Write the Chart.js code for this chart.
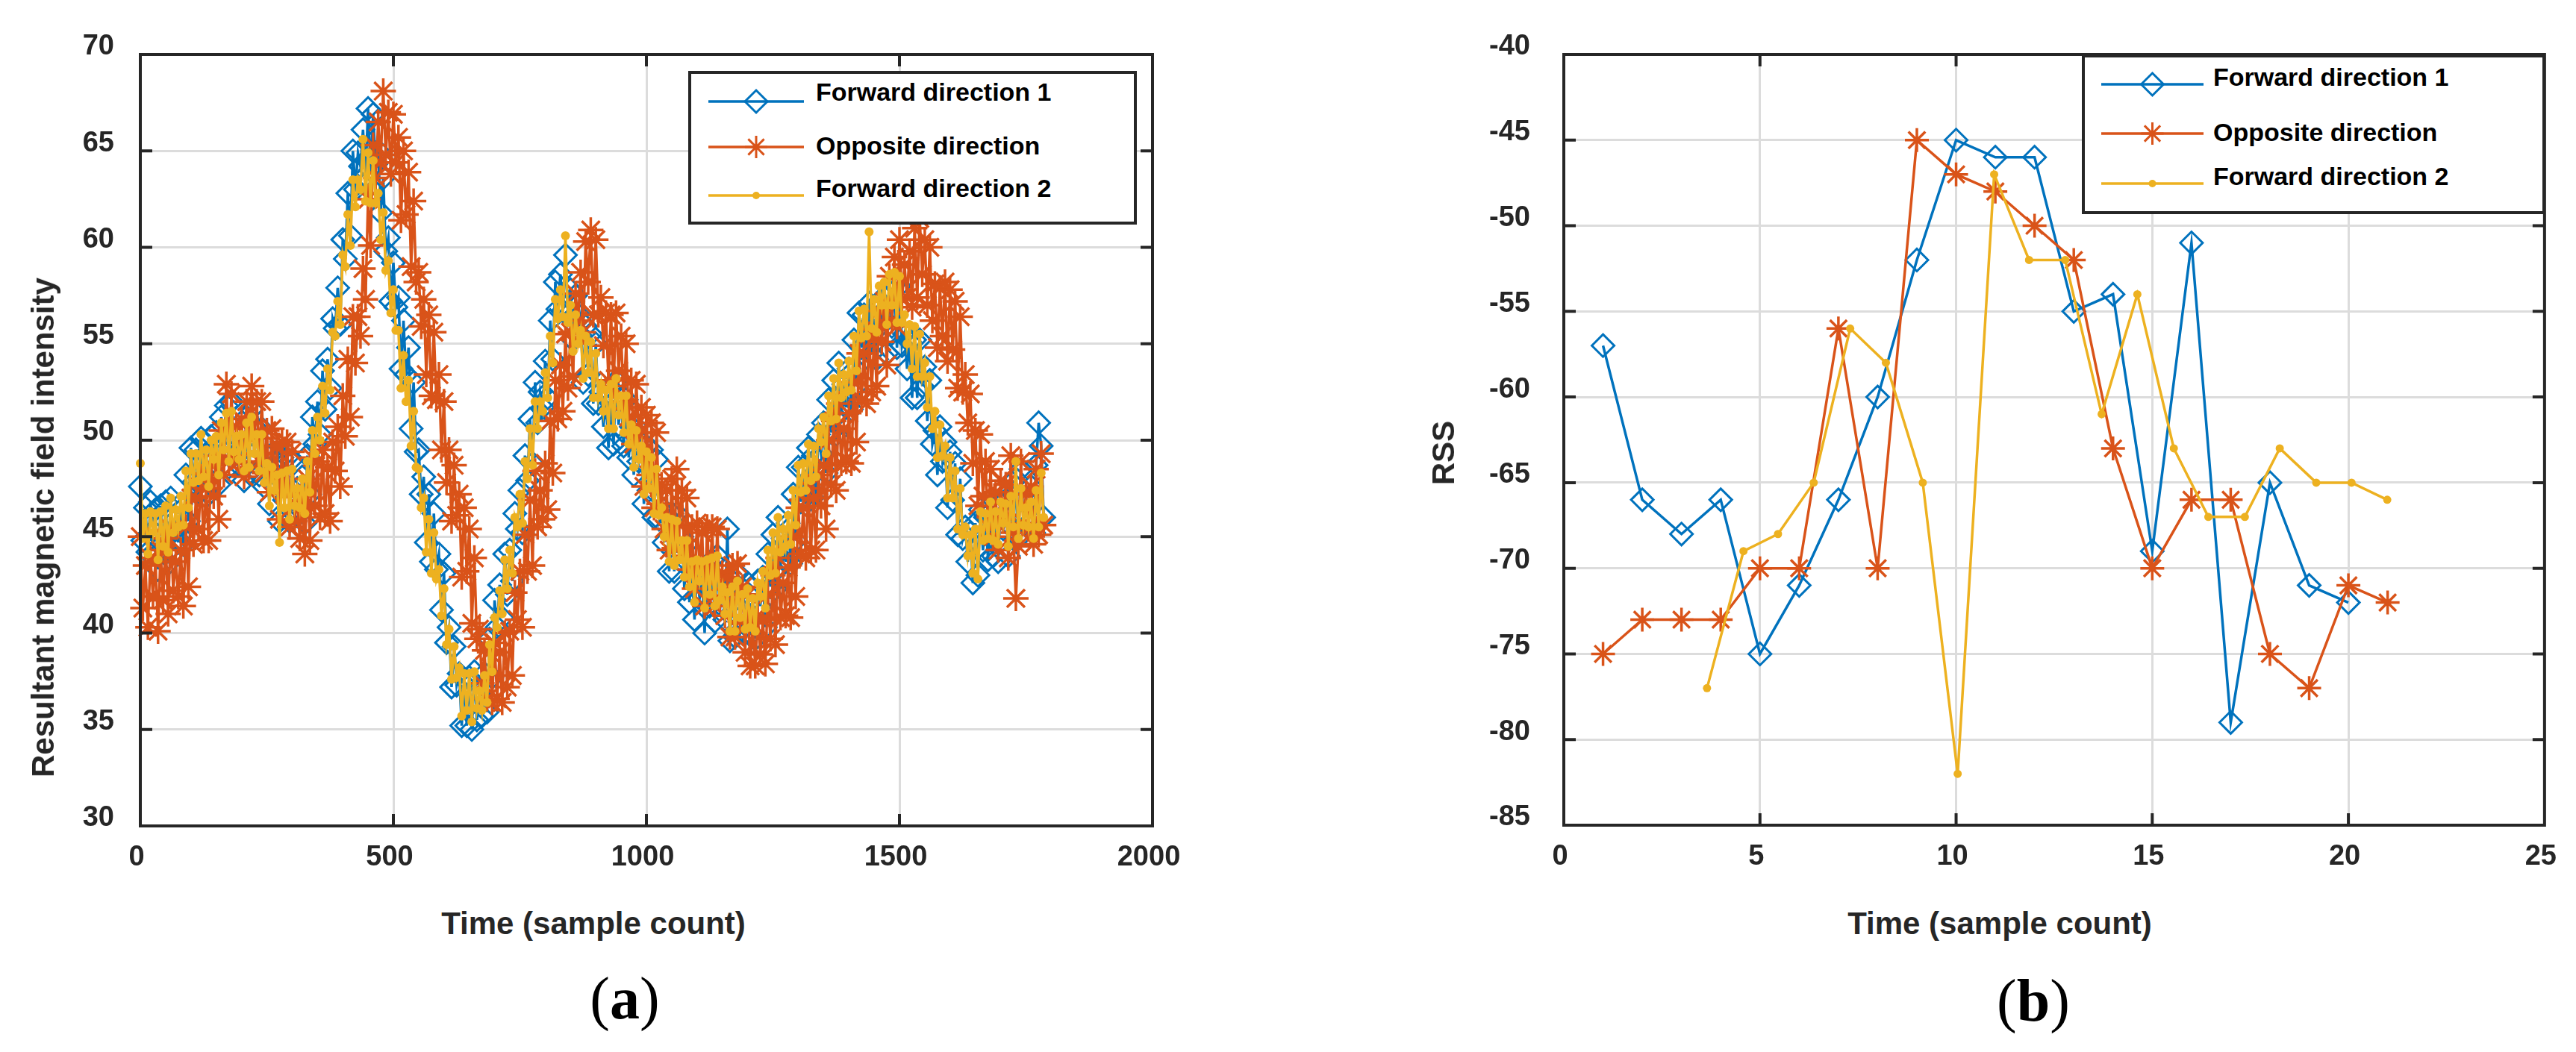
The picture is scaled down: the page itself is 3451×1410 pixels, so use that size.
<!DOCTYPE html>
<html>
<head>
<meta charset="utf-8">
<script src="https://cdn.jsdelivr.net/npm/chart.js@4.4.1/dist/chart.umd.min.js"></script>
<style>
  body { margin: 0; width: 3451px; height: 1410px; background: #fff; position: relative; overflow: hidden;
         font-family: "Liberation Sans", Arial, sans-serif; color: #262626; }
  .holder { position: absolute; top: 0; }
  .txt { position: absolute; white-space: nowrap; line-height: 1; font-weight: bold; transform: translate(-50%, -50%); }
  .ytitle { transform: translate(-50%, -50%) rotate(-90deg); }
  .panel { font-family: "Liberation Serif", "Times New Roman", serif; font-weight: normal; font-size: 80px; color: #000; }
  .legend { position: absolute; box-sizing: border-box; border: 4px solid #262626; background: #fff; }
  .legtxt { position: absolute; white-space: nowrap; line-height: 1; font-weight: bold; font-size: 34px; color: #000; transform: translateY(-50%); }
  svg.leg { position: absolute; left: 0; top: 0; overflow: visible; }
</style>
</head>
<body>
<div class="holder" style="left:0"><canvas id="chartA" width="1650" height="1200" style="width:1650px;height:1200px"></canvas></div>
<div class="holder" style="left:1750px"><canvas id="chartB" width="1700" height="1200" style="width:1700px;height:1200px"></canvas></div>

<div class="txt ytitle" style="left:58px;top:707px;font-size:42px">Resultant magnetic field intensity</div>
<div class="txt" style="left:795px;top:1238px;font-size:42px">Time (sample count)</div>
<div class="txt panel" style="left:837px;top:1338px">(<b>a</b>)</div>

<div class="txt ytitle" style="left:1934px;top:607px;font-size:42px">RSS</div>
<div class="txt" style="left:2679px;top:1238px;font-size:42px">Time (sample count)</div>
<div class="txt panel" style="left:2724px;top:1341px">(<b>b</b>)</div>

<script>
// series names and colours (MATLAB default order)
const seriesNames = ["Forward direction 1", "Opposite direction", "Forward direction 2"];
const seriesColors = ["#0072BD", "#D95319", "#EDB120"];

// (a) magnetic field, read every 5th sample off the picture
const samplesA = [
  0,5,10,15,20,25,30,35,40,45,50,55,60,65,70,75,80,85,90,95,
  100,105,110,115,120,125,130,135,140,145,150,155,160,165,170,175,180,185,190,195,
  200,205,210,215,220,225,230,235,240,245,250,255,260,265,270,275,280,285,290,295,
  300,305,310,315,320,325,330,335,340,345,350,355,360,365,370,375,380,385,390,395,
  400,405,410,415,420,425,430,435,440,445,450,455,460,465,470,475,480,485,490,495,
  500,505,510,515,520,525,530,535,540,545,550,555,560,565,570,575,580,585,590,595,
  600,605,610,615,620,625,630,635,640,645,650,655,660,665,670,675,680,685,690,695,
  700,705,710,715,720,725,730,735,740,745,750,755,760,765,770,775,780,785,790,795,
  800,805,810,815,820,825,830,835,840,845,850,855,860,865,870,875,880,885,890,895,
  900,905,910,915,920,925,930,935,940,945,950,955,960,965,970,975,980,985,990,995,
  1000,1005,1010,1015,1020,1025,1030,1035,1040,1045,1050,1055,1060,1065,1070,1075,1080,1085,1090,1095,
  1100,1105,1110,1115,1120,1125,1130,1135,1140,1145,1150,1155,1160,1165,1170,1175,1180,1185,1190,1195,
  1200,1205,1210,1215,1220,1225,1230,1235,1240,1245,1250,1255,1260,1265,1270,1275,1280,1285,1290,1295,
  1300,1305,1310,1315,1320,1325,1330,1335,1340,1345,1350,1355,1360,1365,1370,1375,1380,1385,1390,1395,
  1400,1405,1410,1415,1420,1425,1430,1435,1440,1445,1450,1455,1460,1465,1470,1475,1480,1485,1490,1495,
  1500,1505,1510,1515,1520,1525,1530,1535,1540,1545,1550,1555,1560,1565,1570,1575,1580,1585,1590,1595,
  1600,1605,1610,1615,1620,1625,1630,1635,1640,1645,1650,1655,1660,1665,1670,1675,1680,1685,1690,1695,
  1700,1705,1710,1715,1720,1725,1730,1735,1740,1745,1750,1755,1760,1765,1770,1775,1780,1785];

const forward1A = [
  47.6,44.8,46.5, 44.2,46.8,45.3, 46.4,43.3,46.6, 44.4,46.8,43.6, 47.0,44.5,45.9, 44.7,46.7,44.6,
  48.2,45.8,49.6, 47.8,49.5,47.3, 50.1,47.5,49.3, 47.2,50.2,48.9, 50.4,47.7,51.2, 49.4,51.8,48.6,
  52.0,49.2,50.2, 48.7,50.4,47.9, 51.2,48.3,51.6, 49.3,50.6,48.2, 50.6,47.6,49.2, 46.7,49.3,47.8,
  48.9,45.8,49.1, 46.9,49.1,45.8, 49.0,46.4,47.5, 46.2,48.1,45.7, 49.2,47.2,51.2, 49.8,52.0,50.3,
  53.6,51.6,54.2, 52.7,56.3,55.8, 57.9,56.0,60.4, 59.4,62.8,60.6, 65.0,63.0,64.9, 64.2,66.1,63.7,
  67.2,64.0,66.9, 64.3,65.0,61.8, 63.6,59.8,60.5, 57.2,59.2,56.9, 57.4,53.7,56.2, 53.4,54.8,50.6,
  53.0,49.4,49.5, 47.2,48.1,44.7, 47.2,43.7,46.2, 43.3,44.1,41.2, 43.1,39.5,40.3, 37.2,39.3,37.3,
  37.9,35.2,37.6, 35.2,37.7,35.0, 38.0,35.5,36.9, 35.7,37.9,35.9, 39.7,37.7,41.7, 40.3,42.5,40.8,
  44.1,42.0,44.3, 42.7,46.2,45.4, 47.4,45.2,49.2, 47.9,51.1,48.8, 53.0,50.9,52.5, 51.7,54.1,52.2,
  56.2,54.2,58.2, 56.8,58.6,56.7, 59.6,56.5,57.8, 55.2,57.5,55.6, 56.4,53.0,55.9, 53.4,55.5,51.9,
  55.0,51.9,52.5, 50.7,52.2,49.6, 52.7,49.8,53.1, 50.8,52.1,49.7, 52.1,49.1,50.7, 48.2,50.7,48.9,
  49.9,46.7,49.7, 47.4,49.5,46.0, 49.0,45.9,46.5, 44.7,46.1,43.2, 46.2,43.2,46.2, 43.8,45.0,42.3,
  44.6,41.6,43.2, 40.7,43.3,41.8, 42.9,40.0,43.4, 41.4,43.8,40.6, 44.0,41.2,42.2, 40.7,45.4,39.6,
  42.7,39.8,43.1, 40.8,42.3,40.0, 42.6,39.9,41.8, 39.7,42.7,41.4, 42.9,40.3,44.1, 42.4,45.1,42.3,
  46.0,43.5,44.9, 43.7,45.7,43.6, 47.2,44.8,48.6, 46.8,48.6,46.7, 49.6,47.1,49.2, 47.2,50.3,49.3,
  50.9,48.3,52.1, 50.4,53.1,50.3, 54.0,51.5,52.9, 51.7,53.7,51.6, 55.2,52.8,56.6, 54.8,56.5,54.3,
  57.1,54.5,56.3, 54.2,57.2,56.0, 57.4,54.5,57.9, 55.9,58.1,54.8, 58.0,54.9,55.5, 53.7,55.1,52.2,
  55.2,52.2,55.2, 52.8,53.8,51.0, 53.1,49.8,50.5, 48.2,50.7,48.9, 49.9,46.5,49.4, 46.9,48.8,45.1,
  48.0,44.9,45.5, 43.7,45.2,42.6, 45.7,43.0,46.4, 44.3,46.0,43.8, 46.6,44.0,45.8, 43.7,46.7,45.4,
  46.9,44.0,47.4, 45.4,48.0,44.9, 48.5,45.9,47.0, 45.7,47.6,45.2, 48.7,50.9,49.7, 46.0];

const oppositeA = [
  45.0,41.3,43.5, 40.3,43.9,41.9, 43.7,40.1,44.3, 41.7,44.9,41.0, 45.4,42.2,43.7, 41.9,44.3,41.4,
  45.5,42.4,47.0, 44.6,47.0,45.4, 48.0,44.8,47.5, 44.8,48.7,47.1, 49.2,45.9,50.5, 48.2,52.9,48.9,
  52.4,49.2,50.7, 48.9,51.1,48.1, 52.0,48.6,52.8, 50.1,52.0,48.9, 52.0,48.3,50.5, 47.3,50.6,48.2,
  49.7,45.9,49.9, 47.2,49.9,45.5, 49.4,45.8,47.1, 44.9,47.1,44.1, 48.0,44.8,49.1, 46.6,48.9,46.0,
  49.5,46.2,48.6, 45.8,49.9,48.4, 50.7,47.6,52.3, 50.2,54.2,51.2, 56.4,54.0,56.4, 55.4,58.9,57.3,
  62.5,60.1,65.3, 63.6,66.5,64.4, 68.1,64.8,67.0, 63.8,66.9,64.4, 65.7,61.4,65.0, 61.7,63.9,59.0,
  62.4,58.2,58.7, 55.9,57.3,53.4, 56.5,52.3,55.6, 52.1,53.4,49.5, 52.0,47.8,49.5, 45.8,48.7,46.1,
  47.2,42.9,46.5, 43.2,45.4,40.5, 43.9,39.7,40.2, 37.4,39.1,36.6, 39.0,36.4,39.5, 36.6,39.0,36.4,
  40.0,37.2,40.1, 37.8,42.1,40.7, 43.2,40.3,45.1, 43.2,46.9,43.5, 48.4,45.5,47.4, 45.9,48.8,46.4,
  51.0,48.3,53.1, 51.1,53.9,51.5, 55.5,52.7,55.6, 53.3,57.6,56.2, 58.7,55.6,60.3, 58.2,60.9,56.5,
  60.4,56.5,57.4, 54.9,56.6,53.1, 56.5,52.8,56.6, 53.6,55.4,52.0, 55.0,51.2,53.1, 49.8,52.9,50.4,
  51.7,47.6,51.3, 48.2,50.9,46.5, 50.4,46.7,47.7, 45.4,47.4,44.3, 48.0,44.4,48.5, 45.6,47.4,44.0,
  47.0,43.3,45.5, 42.3,45.7,43.6, 45.2,41.4,45.5, 42.7,45.5,41.4, 45.4,41.8,43.1, 40.9,42.9,39.8,
  43.5,39.8,43.6, 40.6,42.4,39.0, 42.0,38.3,40.5, 38.3,40.9,38.9, 40.7,38.4,42.0, 39.7,43.0,39.4,
  43.9,40.8,42.6, 40.9,43.4,40.8, 45.0,41.9,46.5, 44.1,46.5,43.9, 47.5,44.3,47.0, 44.3,48.2,46.6,
  48.7,45.4,50.0, 47.7,51.0,47.4, 51.9,48.8,50.6, 48.9,51.4,48.8, 53.0,49.9,54.5, 52.1,54.5,51.9,
  55.5,52.5,55.3, 52.8,56.7,55.1, 57.2,53.9,58.5, 56.2,59.5,55.9, 60.4,57.3,59.1, 57.4,59.8,56.9,
  61.0,57.4,61.5, 58.6,60.4,57.0, 60.0,56.2,58.1, 54.8,57.9,55.4, 58.2,54.1,57.8, 54.7,57.2,52.7,
  56.4,52.5,53.4, 50.9,52.4,48.8, 50.5,46.6,50.3, 47.1,48.9,45.5, 48.5,45.0,47.3, 44.3,47.9,45.9,
  47.7,43.9,49.2, 45.2,41.8,44.5, 48.9,45.7,47.2, 45.4,47.6,44.6, 48.5,45.1,49.3, 45.6];

const forward2A = [
  48.8,44.9,46.2, 44.1,46.3,45.2, 46.2,43.8,46.3, 44.5,46.6,44.2, 47.0,45.2,46.4, 45.5,47.1,45.6,
  48.4,46.5,49.3, 47.8,49.3,47.9, 50.3,48.1,49.5, 47.6,50.0,49.0, 50.2,48.2,50.9, 49.5,51.4,48.9,
  51.5,49.4,50.2, 49.0,50.3,48.4, 50.9,48.6,51.2, 49.3,50.3,48.4, 50.3,47.8,48.8, 46.6,48.6,47.4,
  48.2,44.7,48.3, 46.5,48.4,45.9, 48.5,46.6,47.5, 46.5,48.0,46.2, 48.9,47.3,50.5, 49.3,51.2,50.0,
  52.8,51.4,53.7, 52.6,55.6,55.4, 57.2,56.0,59.6, 59.0,61.7,60.1, 63.5,62.1,63.5, 63.0,65.6,62.4,
  64.9,62.3,64.5, 62.3,62.8,60.4, 61.8,58.8,59.3, 56.6,57.8,55.7, 55.7,52.7,54.4, 52.0,53.1,49.7,
  51.5,48.6,48.5, 46.5,47.0,44.2, 45.9,43.1,45.2, 42.8,43.3,40.9, 42.3,39.4,40.2, 37.6,39.3,37.7,
  38.2,35.7,37.9, 36.0,37.9,35.4, 38.0,36.1,37.0, 36.0,37.8,36.4, 39.4,38.0,40.8, 40.3,42.2,41.0,
  43.8,42.3,44.3, 43.1,46.0,45.5, 47.2,45.7,48.9, 48.0,50.6,48.7, 52.0,50.6,52.0, 51.5,53.5,52.2,
  55.4,54.0,57.3, 56.3,57.8,56.4, 60.6,56.1,57.0, 54.6,56.5,55.0, 55.7,53.2,55.4, 53.5,55.1,52.2,
  54.5,52.2,52.9, 51.5,52.6,50.6, 52.9,50.6,53.2, 51.3,52.3,50.4, 52.3,49.8,50.8, 48.6,50.5,49.0,
  49.7,47.2,49.4, 47.5,49.1,46.2, 48.5,46.1,46.5, 45.0,46.0,43.7, 45.9,43.5,45.8, 43.8,44.8,42.9,
  44.8,42.4,43.7, 41.6,43.8,42.7, 43.7,41.3,43.8, 42.0,43.9,41.4, 44.0,41.7,42.4, 41.0,42.1,40.1,
  42.4,40.1,42.7, 40.8,42.0,40.2, 42.3,40.3,41.8, 40.1,42.6,41.9, 43.2,41.3,44.3, 43.0,45.2,43.1,
  46.0,44.2,45.4, 44.5,46.1,44.6, 47.4,45.6,48.7, 47.3,48.8,47.4, 49.8,47.9,49.7, 48.1,50.6,49.9,
  51.2,49.3,52.3, 51.0,53.2,51.1, 54.0,52.2,53.4, 52.5,54.1,52.6, 55.4,53.6,56.7, 55.3,56.8,55.4,
  60.8,55.8,57.3, 55.6,58.0,57.0, 58.2,56.0,58.6, 57.0,58.7,56.1, 58.5,56.1,56.5, 55.0,56.0,53.7,
  55.9,53.3,55.5, 53.3,54.0,51.7, 53.3,50.6,51.5, 49.1,50.8,49.2, 49.7,47.0,49.1, 47.0,48.4,45.4,
  47.5,45.1,45.5, 44.0,45.1,43.1, 45.4,42.8,46.3, 44.8,46.2,44.9, 46.8,44.8,46.3, 44.6,46.8,45.7,
  46.7,44.5,47.1, 45.5,48.9,44.9, 47.5,45.6,46.5, 45.5,46.8,44.9, 47.4,45.5,48.3, 46.0];

// (b) RSS
const stepsB = [1,2,3,4,5,6,7,8,9,10,11,12,13,14,15,16,17,18,19,20,21];
const forward1B = [-57,-66,-68,-66,-75,-71,-66,-60,-52,-45,-46,-46,-55,-54,-69,-51,-79,-65,-71,-72];
const oppositeB = [-75,-73,-73,-73,-70,-70,-56,-70,-45,-47,-48,-50,-52,-63,-70,-66,-66,-75,-77,-71,-72];
const forward2Bx = [3.65,4.58,5.46,6.37,7.30,8.21,9.15,10.04,10.97,11.86,12.78,13.71,14.62,15.55,16.43,17.36,18.25,19.18,20.08,20.99];
const forward2B = [-77,-69,-68,-65,-56,-58,-65,-82,-47,-52,-52,-61,-54,-63,-67,-67,-63,-65,-65,-66];

// tick labels
const ticksAx = [0, 500, 1000, 1500, 2000];
const ticksAy = [30, 35, 40, 45, 50, 55, 60, 65, 70];
const ticksBx = [0, 5, 10, 15, 20, 25];
const ticksBy = [-85, -80, -75, -70, -65, -60, -55, -50, -45, -40];

const ink = "#262626";
const tickFont = { family: "'Liberation Sans', Arial, sans-serif", size: 38, weight: "bold" };

function pairs(xs, ys) {
  return ys.map((v, i) => ({ x: xs[i], y: v }));
}

// box round the plot area, with MATLAB style inward ticks on all four sides
const frame = {
  id: "frame",
  afterDraw(chart) {
    const { ctx, chartArea: a, scales } = chart;
    const len = 16;
    ctx.save();
    ctx.strokeStyle = ink;
    ctx.lineWidth = 4;
    ctx.beginPath();
    scales.x.ticks.forEach(t => {
      const px = scales.x.getPixelForValue(t.value);
      if (px <= a.left + 1 || px >= a.right - 1) return;
      ctx.moveTo(px, a.bottom); ctx.lineTo(px, a.bottom - len);
      ctx.moveTo(px, a.top); ctx.lineTo(px, a.top + len);
    });
    scales.y.ticks.forEach(t => {
      const py = scales.y.getPixelForValue(t.value);
      if (py <= a.top + 1 || py >= a.bottom - 1) return;
      ctx.moveTo(a.left, py); ctx.lineTo(a.left + len, py);
      ctx.moveTo(a.right, py); ctx.lineTo(a.right - len, py);
    });
    ctx.stroke();
    ctx.strokeRect(a.left, a.top, a.right - a.left, a.bottom - a.top);
    ctx.restore();
  }
};

// mk = [diamond, asterisk, dot] radii
function makeDatasets(sets, lineW, mk) {
  return [
    { label: seriesNames[0], data: sets[0], borderColor: seriesColors[0], borderWidth: lineW,
      pointStyle: "rectRot", pointRadius: mk[0], pointBorderWidth: 3, pointBorderColor: seriesColors[0],
      pointBackgroundColor: "rgba(0,0,0,0)", order: 3 },
    { label: seriesNames[1], data: sets[1], borderColor: seriesColors[1], borderWidth: lineW,
      pointStyle: "star", pointRadius: mk[1], pointBorderWidth: 3.5, pointBorderColor: seriesColors[1],
      pointBackgroundColor: seriesColors[1], order: 2 },
    { label: seriesNames[2], data: sets[2], borderColor: seriesColors[2], borderWidth: lineW,
      pointStyle: "circle", pointRadius: mk[2], pointBorderWidth: 0,
      pointBackgroundColor: seriesColors[2], order: 1 }
  ];
}

function axis(ticks, size, isY, pad) {
  return {
    type: "linear",
    min: ticks[0],
    max: ticks[ticks.length - 1],
    afterBuildTicks: s => { s.ticks = ticks.map(v => ({ value: v })); },
    afterFit: s => { if (isY) s.width = size; else s.height = size; },
    grid: { color: "#dcdcdc", lineWidth: 3, drawTicks: false },
    border: { display: false },
    ticks: { color: ink, font: tickFont, padding: isY ? pad : 20, labelOffset: isY ? -10 : -5,
             maxRotation: 0, autoSkip: false, callback: v => String(v) }
  };
}

function makeChart(id, datasets, xt, yt, yWidth, xHeight, rightPad, yPad) {
  return new Chart(document.getElementById(id), {
    type: "scatter",
    data: { datasets },
    options: {
      responsive: false,
      animation: false,
      devicePixelRatio: 1,
      showLine: true,
      clip: false,
      elements: { line: { tension: 0 } },
      layout: { padding: { top: 73, right: rightPad, left: 0, bottom: 0 } },
      plugins: { legend: { display: false }, tooltip: { enabled: false } },
      scales: {
        x: axis(xt, xHeight, false),
        y: axis(yt, yWidth, true, yPad)
      }
    },
    plugins: [frame]
  });
}

makeChart("chartA",
  makeDatasets([pairs(samplesA, forward1A), pairs(samplesA, oppositeA), pairs(samplesA, forward2A)], 3.5, [15, 17, 6]),
  ticksAx, ticksAy, 188, 93, 106, 35);

makeChart("chartB",
  makeDatasets([pairs(stepsB, forward1B), pairs(stepsB, oppositeB), pairs(forward2Bx, forward2B)], 3.5, [15, 16, 5.5]),
  ticksBx, ticksBy, 345, 94, 40, 45);

// legends: boxes of real text with a small line + marker sample
function marker(i, cx, cy) {
  const c = seriesColors[i];
  if (i === 0) {
    const r = 15;
    return `<polygon points="${cx},${cy - r} ${cx + r},${cy} ${cx},${cy + r} ${cx - r},${cy}" fill="none" stroke="${c}" stroke-width="3"/>`;
  }
  if (i === 1) {
    const r = 15, d = r * Math.SQRT1_2;
    return `<path d="M${cx - r} ${cy}H${cx + r}M${cx} ${cy - r}V${cy + r}M${cx - d} ${cy - d}L${cx + d} ${cy + d}M${cx - d} ${cy + d}L${cx + d} ${cy - d}" stroke="${c}" stroke-width="3"/>`;
  }
  return `<circle cx="${cx}" cy="${cy}" r="5" fill="${c}"/>`;
}

function legend(box, lineX, textX, textY, lineY) {
  const el = document.createElement("div");
  el.className = "legend";
  el.style.left = box[0] + "px"; el.style.top = box[1] + "px";
  el.style.width = (box[2] - box[0]) + "px"; el.style.height = (box[3] - box[1]) + "px";
  document.body.appendChild(el);
  let svg = `<svg class="leg" width="3451" height="1410">`;
  seriesNames.forEach((name, i) => {
    svg += `<line x1="${lineX[0]}" y1="${lineY[i]}" x2="${lineX[1]}" y2="${lineY[i]}" stroke="${seriesColors[i]}" stroke-width="3.5"/>`;
    svg += marker(i, (lineX[0] + lineX[1]) / 2, lineY[i]);
    const t = document.createElement("div");
    t.className = "legtxt";
    t.style.left = textX + "px"; t.style.top = textY[i] + "px";
    t.textContent = name;
    document.body.appendChild(t);
  });
  svg += `</svg>`;
  document.body.insertAdjacentHTML("beforeend", svg);
}

legend([922, 95, 1523, 301], [949, 1077], 1093, [123, 195, 252], [136, 197, 262]);
legend([2789, 73, 3410, 287], [2815, 2952], 2965, [103, 177, 236], [113, 179, 246]);
</script>
</body>
</html>
